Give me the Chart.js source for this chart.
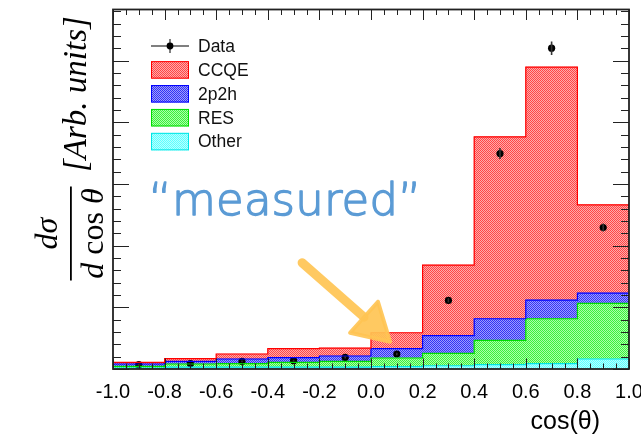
<!DOCTYPE html>
<html><head><meta charset="utf-8">
<script src="https://cdn.jsdelivr.net/npm/chart.js@4.4.1/dist/chart.umd.min.js"></script>
<style>html,body{margin:0;padding:0;background:#fff;overflow:hidden}canvas{display:block}</style>
</head><body>
<canvas id="c" width="641" height="435"></canvas>
<script>
// ---- data (arbitrary units) ----
const binCenters = [-0.9, -0.7, -0.5, -0.3, -0.1, 0.1, 0.3, 0.5, 0.7, 0.9];
const otherVals = [0.016, 0.032, 0.032, 0.030, 0.030, 0.037, 0.053, 0.070, 0.086, 0.162];
const resVals   = [0.026, 0.049, 0.054, 0.077, 0.093, 0.141, 0.200, 0.394, 0.729, 0.901];
const mecVals   = [0.039, 0.042, 0.076, 0.076, 0.088, 0.151, 0.287, 0.351, 0.303, 0.169];
const ccqeVals  = [0.026, 0.044, 0.081, 0.146, 0.129, 0.259, 1.146, 2.950, 3.777, 1.431];
const dataVals  = [0.070, 0.086, 0.123, 0.135, 0.188, 0.243, 1.112, 3.494, 5.203, 2.295];
const dataErrs  = [0.012, 0.012, 0.015, 0.015, 0.018, 0.022, 0.035, 0.090, 0.110, 0.065];
const xTickValues = [-1.0, -0.8, -0.6, -0.4, -0.2, 0.0, 0.2, 0.4, 0.6, 0.8, 1.0];
const seriesLabels = ['Other', 'RES', '2p2h', 'CCQE'];
const legendLabels = ['Data', 'CCQE', '2p2h', 'RES', 'Other'];
const yTitleNum = 'dσ';
const yTitleDen = [['d', true], [' cos ', false], ['θ', true]];
const yTitleUnits = '[Arb. units]';
const xTitle = 'cos(θ)';
const noteText = '\u201Cmeasured\u201D';
const Y_MAX = 5.83;

// ---- styles ----
function checker(c1, c2) {
  const p = document.createElement('canvas'); p.width = 2; p.height = 2;
  const g = p.getContext('2d');
  g.fillStyle = c2; g.fillRect(0, 0, 2, 2);
  g.fillStyle = c1; g.fillRect(0, 0, 1, 1); g.fillRect(1, 1, 1, 1);
  return g.createPattern(p, 'repeat');
}
const styles = {
  'Other': {fill: checker('#5cffff', '#b8ffff'), line: '#00e5e5'},
  'RES':   {fill: checker('#3cf03c', '#aaffaa'), line: '#00dd00'},
  '2p2h':  {fill: checker('#3434f4', '#9c9cff'), line: '#0000ff'},
  'CCQE':  {fill: checker('#ff4646', '#ffaaaa'), line: '#ff0000'}
};
const seriesVals = {'Other': otherVals, 'RES': resVals, '2p2h': mecVals, 'CCQE': ccqeVals};

const datasets = seriesLabels.map(lab => ({
  type: 'bar', label: lab, stack: 'mc',
  data: binCenters.map((x, i) => ({x, y: seriesVals[lab][i]})),
  backgroundColor: styles[lab].fill, borderWidth: 0,
  categoryPercentage: 1, barPercentage: 1
}));
datasets.push({
  type: 'scatter', label: 'Data', stack: 'data', order: -1,
  data: binCenters.map((x, i) => ({x, y: dataVals[i]})),
  backgroundColor: '#000', borderColor: '#000', borderWidth: 0,
  pointRadius: 3.6, showLine: false
});

const rootPlugin = {
  id: 'rootStyle',
  afterDatasetsDraw(chart) {
    const ctx = chart.ctx, a = chart.chartArea;
    const ys = chart.scales.y, xs = chart.scales.x;
    ctx.save();
    ctx.beginPath(); ctx.rect(a.left, a.top, a.right - a.left, a.bottom - a.top); ctx.clip();
    chart.data.datasets.forEach((ds, k) => {
      if (ds.type !== 'bar') return;
      const els = chart.getDatasetMeta(k).data;
      ctx.beginPath();
      els.forEach((el, i) => {
        const l = el.x - el.width / 2, r = el.x + el.width / 2;
        if (i === 0) { ctx.moveTo(l, el.base); ctx.lineTo(l, el.y); } else ctx.lineTo(l, el.y);
        ctx.lineTo(r, el.y);
        if (i === els.length - 1) ctx.lineTo(r, el.base);
      });
      ctx.strokeStyle = styles[ds.label].line; ctx.lineWidth = 1.2; ctx.stroke();
    });
    const dk = chart.data.datasets.findIndex(d => d.label === 'Data');
    chart.getDatasetMeta(dk).data.forEach((el, i) => {
      ctx.beginPath();
      ctx.moveTo(el.x, ys.getPixelForValue(dataVals[i] - dataErrs[i]));
      ctx.lineTo(el.x, ys.getPixelForValue(dataVals[i] + dataErrs[i]));
      ctx.strokeStyle = '#333'; ctx.lineWidth = 1.6; ctx.stroke();
    });
    ctx.restore();
    ctx.save();
    ctx.strokeStyle = '#222'; ctx.lineWidth = 1;
    ctx.beginPath();
    for (let v = 0; v <= Y_MAX + 1e-9; v += 0.2) {
      const py = Math.round(ys.getPixelForValue(v)) + 0.5;
      const major = Math.abs(v - Math.round(v)) < 1e-6;
      const len = major ? 16 : 8;
      ctx.moveTo(a.left, py); ctx.lineTo(a.left + len, py);
      ctx.moveTo(a.right, py); ctx.lineTo(a.right - len, py);
    }
    for (let i = 0; i <= 40; i++) {
      const v = -1 + i * 0.05;
      const px = Math.round(xs.getPixelForValue(v)) + 0.5;
      const len = (i % 4 === 0) ? 10.5 : 5.5;
      ctx.moveTo(px, a.bottom); ctx.lineTo(px, a.bottom - len);
      ctx.moveTo(px, a.top); ctx.lineTo(px, a.top + len);
    }
    ctx.stroke();
    ctx.lineWidth = 1.8;
    ctx.strokeRect(a.left, a.top, a.right - a.left, a.bottom - a.top);
    ctx.restore();
  },
  afterDraw(chart) {
    const ctx = chart.ctx, a = chart.chartArea, H = chart.height;
    const ys = chart.scales.y, xs = chart.scales.x;
    // legend
    ctx.save();
    const lx = a.left + 38, bw = 38, bh = 17.5, step = 23.9;
    let cy = a.top + 36.5;
    ctx.font = '17.5px "Liberation Sans", Arial, sans-serif';
    ctx.textBaseline = 'middle'; ctx.textAlign = 'left'; ctx.fillStyle = '#000';
    legendLabels.forEach(lab => {
      if (lab === 'Data') {
        ctx.strokeStyle = '#555'; ctx.lineWidth = 1.5;
        ctx.beginPath();
        ctx.moveTo(lx, cy); ctx.lineTo(lx + bw, cy);
        ctx.moveTo(lx + bw / 2, cy - 7); ctx.lineTo(lx + bw / 2, cy + 7);
        ctx.stroke();
        ctx.beginPath(); ctx.arc(lx + bw / 2, cy, 3.4, 0, Math.PI * 2); ctx.fillStyle = '#000'; ctx.fill();
      } else {
        ctx.fillStyle = styles[lab].fill;
        ctx.fillRect(lx, cy - bh / 2, bw, bh);
        ctx.strokeStyle = styles[lab].line; ctx.lineWidth = 1;
        ctx.strokeRect(lx + 0.5, cy - bh / 2 + 0.5, bw - 1, bh - 1);
      }
      ctx.fillStyle = '#111';
      ctx.fillText(lab, lx + bw + 9, cy + 1);
      cy += step;
    });
    ctx.restore();

    // x-axis title
    ctx.save();
    ctx.font = '25px "Liberation Sans", Arial, sans-serif';
    ctx.textAlign = 'right'; ctx.textBaseline = 'alphabetic'; ctx.fillStyle = '#000';
    ctx.fillText(xTitle, a.right - 29, H - 6);
    ctx.restore();

    // y-axis title (rotated)
    ctx.save();
    ctx.translate(0, H); ctx.rotate(-Math.PI / 2);
    ctx.fillStyle = '#000';
    const fc = H - 233.5;
    ctx.textBaseline = 'alphabetic';
    ctx.font = 'italic 32px "Liberation Serif", serif';
    ctx.textAlign = 'center';
    ctx.fillText(yTitleNum, fc, 57);
    ctx.fillRect(fc - 47, 70, 94, 1.8);
    let tot = 0;
    const fonts = yTitleDen.map(([t, it]) => (it ? 'italic ' : '') + '32px "Liberation Serif", serif');
    yTitleDen.forEach(([t], i) => { ctx.font = fonts[i]; tot += ctx.measureText(t).width; });
    let px = fc - tot / 2;
    ctx.textAlign = 'left';
    yTitleDen.forEach(([t], i) => { ctx.font = fonts[i]; ctx.fillText(t, px, 103); px += ctx.measureText(t).width; });
    ctx.font = 'italic 33px "Liberation Serif", serif';
    ctx.fillText(yTitleUnits, H - 172, 86);
    ctx.restore();

    // annotation text, fitted to the width it has in the picture
    ctx.save();
    ctx.font = '300 45px "DejaVu Sans", sans-serif';
    const x0 = xs.getPixelForValue(-0.862), x1 = xs.getPixelForValue(0.196);
    const w0 = ctx.measureText(noteText).width;
    const sp = (x1 - x0 - w0) / noteText.length;
    ctx.letterSpacing = sp.toFixed(2) + 'px';
    ctx.fillStyle = '#5b9bd5'; ctx.strokeStyle = '#5b9bd5'; ctx.lineWidth = 1.4; ctx.lineJoin = 'round';
    ctx.textAlign = 'left'; ctx.textBaseline = 'alphabetic';
    const by = ys.getPixelForValue(2.50);
    ctx.fillText(noteText, x0, by);
    ctx.strokeText(noteText, x0, by);
    ctx.restore();

    // arrow annotation
    ctx.save();
    const P = (x, y) => [xs.getPixelForValue(x), ys.getPixelForValue(y)];
    const s = P(-0.267, 1.723), h1 = P(0.027, 1.091), h2 = P(-0.081, 0.588), tip = P(0.074, 0.442);
    const col = 'rgba(255,196,84,0.92)';
    ctx.strokeStyle = col; ctx.fillStyle = col; ctx.lineCap = 'round'; ctx.lineJoin = 'round';
    ctx.lineWidth = 9;
    ctx.beginPath(); ctx.moveTo(s[0], s[1]); ctx.lineTo((h1[0] + h2[0]) / 2, (h1[1] + h2[1]) / 2); ctx.stroke();
    ctx.lineWidth = 4;
    ctx.beginPath(); ctx.moveTo(h1[0], h1[1]); ctx.lineTo(h2[0], h2[1]); ctx.lineTo(tip[0], tip[1]); ctx.closePath();
    ctx.fill(); ctx.stroke();
    ctx.restore();
  }
};

new Chart(document.getElementById('c'), {
  type: 'bar',
  data: {datasets},
  options: {
    responsive: false, animation: false, devicePixelRatio: 1,
    layout: {padding: {left: 113, top: 9.5, right: 12, bottom: 0}},
    plugins: {legend: {display: false}, tooltip: {enabled: false}},
    scales: {
      x: {
        type: 'linear', min: -1, max: 1, offset: false, stacked: true,
        grid: {display: false, drawTicks: false}, border: {display: false},
        ticks: {
          color: '#000', padding: 11, maxRotation: 0, autoSkip: false,
          font: {family: '"Liberation Sans", Arial, sans-serif', size: 20},
          callback: v => v.toFixed(1)
        },
        afterBuildTicks: s => { s.ticks = xTickValues.map(v => ({value: v})); },
        afterFit: s => { s.height = 66; s.paddingLeft = 0; s.paddingRight = 0; }
      },
      y: {display: false, min: 0, max: Y_MAX, stacked: true}
    }
  },
  plugins: [rootPlugin]
});
</script>
</body></html>
